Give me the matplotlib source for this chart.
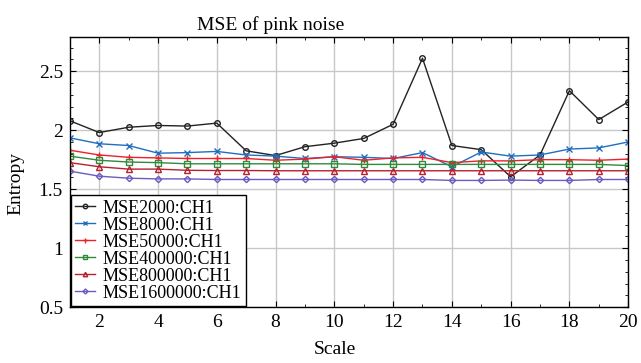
import matplotlib
matplotlib.use("Agg")
import matplotlib.pyplot as plt
from matplotlib.ticker import MultipleLocator

plt.rcParams['font.family'] = ['Liberation Serif', 'DejaVu Serif']

scales = list(range(1, 21))

mse2000 = [2.08, 1.98, 2.025, 2.04, 2.035, 2.06, 1.825, 1.785, 1.86, 1.89,
           1.93, 2.05, 2.61, 1.87, 1.835, 1.605, 1.79, 2.335, 2.09, 2.24]
mse8000 = [1.935, 1.885, 1.87, 1.805, 1.81, 1.82, 1.79, 1.78, 1.76, 1.775,
           1.77, 1.76, 1.81, 1.69, 1.815, 1.78, 1.79, 1.84, 1.85, 1.90]
mse50000 = [1.83, 1.79, 1.77, 1.765, 1.76, 1.76, 1.76, 1.745, 1.755, 1.775,
            1.745, 1.765, 1.77, 1.725, 1.74, 1.74, 1.75, 1.75, 1.745, 1.755]
mse400000 = [1.78, 1.745, 1.73, 1.725, 1.715, 1.715, 1.715, 1.715, 1.715, 1.715,
             1.71, 1.71, 1.71, 1.71, 1.71, 1.71, 1.71, 1.71, 1.71, 1.70]
mse800000 = [1.725, 1.69, 1.67, 1.67, 1.66, 1.658, 1.658, 1.656, 1.656, 1.656,
             1.656, 1.656, 1.656, 1.656, 1.656, 1.656, 1.656, 1.656, 1.656, 1.656]
mse1600000 = [1.653, 1.61, 1.593, 1.587, 1.587, 1.582, 1.582, 1.582, 1.582, 1.582,
              1.582, 1.582, 1.582, 1.574, 1.574, 1.577, 1.574, 1.574, 1.582, 1.582]

series = [
    ("MSE2000:CH1", mse2000, "#222222", "o", 4.0),
    ("MSE8000:CH1", mse8000, "#1f6fbf", "x", 4.0),
    ("MSE50000:CH1", mse50000, "#f0202a", "+", 4.5),
    ("MSE400000:CH1", mse400000, "#2e8b3a", "s", 4.0),
    ("MSE800000:CH1", mse800000, "#b8202e", "^", 4.0),
    ("MSE1600000:CH1", mse1600000, "#6a5cc0", "D", 3.2),
]

fig, ax = plt.subplots(figsize=(6.41, 3.63), dpi=100)
fig.subplots_adjust(left=0.109, right=0.98, top=0.898, bottom=0.154)

for label, vals, color, marker, ms in series:
    ax.plot(scales, vals, color=color, marker=marker, markersize=ms,
            markerfacecolor='none', markeredgecolor=color, linewidth=1.0,
            markeredgewidth=1.0, label=label)

ax.set_xlim(1, 20)
ax.set_ylim(0.5, 2.79)
ax.xaxis.set_major_locator(MultipleLocator(2))
ax.xaxis.set_minor_locator(MultipleLocator(1))
ax.yaxis.set_minor_locator(MultipleLocator(0.1))
ax.set_yticks([0.5, 1, 1.5, 2, 2.5])
ax.set_yticklabels(['0.5', '1', '1.5', '2', '2.5'])
ax.tick_params(which='both', direction='in', top=True, right=True, labelsize=14)
ax.tick_params(axis='x', which='major', pad=5)
ax.tick_params(axis='y', which='major', pad=5)
ax.tick_params(which='major', length=4)
ax.tick_params(which='minor', length=2.5)
ax.grid(True, which='major', color='#c8c8c8', linewidth=1.0)
ax.set_axisbelow(True)
for sp in ax.spines.values():
    sp.set_linewidth(1.0)

ax.set_title("MSE of pink noise", fontsize=14, x=0.36, pad=5)
ax.set_xlabel("Scale", fontsize=14)
ax.xaxis.set_label_coords(0.475, -0.125)
ax.set_ylabel("Entropy", fontsize=14)
ax.yaxis.set_label_coords(-0.082, 0.459)

leg = ax.legend(loc='lower left', fontsize=13, frameon=True, fancybox=False,
                edgecolor='black', framealpha=1, handlelength=1.1,
                handletextpad=0.4, labelspacing=0.0, borderpad=0.25,
                borderaxespad=0.05, markerscale=0.8)
leg.get_frame().set_linewidth(1.0)

fig.savefig("out.png", dpi=100)
